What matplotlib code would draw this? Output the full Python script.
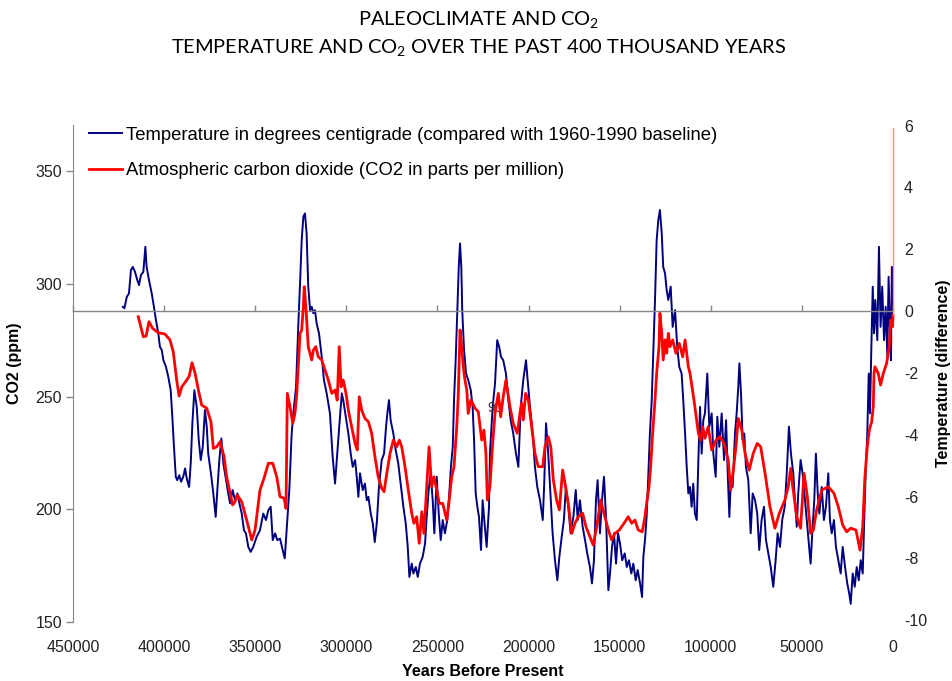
import numpy as np
import matplotlib
matplotlib.use("Agg")
import matplotlib.pyplot as plt

plt.rcParams["font.family"] = ["Liberation Sans", "DejaVu Sans"]
plt.rcParams["axes.unicode_minus"] = False
plt.rcParams["mathtext.default"] = "regular"

# Vostok ice core: temperature anomaly (deg C) vs thousands of years before present
TEMP_KYR = [
    422.7, 421.8, 420.5, 419.3, 418.2, 417.2, 416.0, 414.7, 413.8, 412.7,
    411.4, 410.3, 409.6, 408.3, 406.8, 405.6, 404.5, 403.2, 402.3, 401.3,
    400.4, 399.0, 397.7, 396.4, 395.5, 394.6, 393.6, 392.8, 391.7, 390.7,
    389.5, 388.5, 387.6, 386.3, 385.4, 384.5, 383.4, 382.1, 381.0, 379.9,
    378.8, 377.6, 376.6, 375.8, 374.3, 373.0, 371.7, 370.8, 369.7, 368.6,
    367.5, 366.0, 364.8, 363.8, 362.4, 361.1, 359.8, 358.7, 357.4, 356.2,
    355.1, 353.8, 352.5, 351.1, 349.2, 347.4, 345.6, 344.1, 342.8, 341.5,
    340.4, 339.1, 337.9, 336.4, 334.9, 333.8, 332.4, 331.3, 330.0, 329.1,
    327.6, 326.4, 325.4, 324.5, 323.6, 322.7, 321.8, 320.9, 319.9, 319.0,
    318.1, 317.2, 316.3, 315.0, 313.5, 312.3, 310.8, 309.0, 307.5, 306.2,
    305.0, 303.9, 302.5, 301.7, 300.3, 298.9, 297.6, 296.5, 295.2, 294.3,
    293.4, 292.5, 291.0, 289.8, 288.8, 287.9, 286.6, 285.5, 284.4, 283.3,
    282.1, 280.6, 279.3, 278.2, 277.5, 276.6, 275.7, 274.2, 272.9, 271.5,
    270.2, 268.7, 267.4, 266.3, 265.4, 264.1, 263.2, 261.9, 260.8, 259.6,
    258.1, 256.8, 255.9, 254.8, 253.7, 252.6, 251.7, 250.4, 249.3, 248.2,
    247.1, 245.9, 244.6, 243.5, 242.6, 241.6, 240.9, 240.0, 239.1, 238.3,
    237.6, 236.9, 236.4, 235.4, 234.3, 233.1, 231.7, 230.7, 229.9, 229.0,
    228.1, 227.2, 226.1, 225.2, 224.3, 223.0, 221.7, 221.2, 219.7, 218.4,
    217.2, 216.1, 215.1, 213.9, 212.4, 211.1, 209.8, 208.4, 206.9, 205.6,
    204.3, 202.9, 201.4, 200.5, 199.2, 197.7, 196.5, 195.2, 193.7, 192.2,
    191.4, 190.4, 189.2, 187.8, 186.8, 185.5, 184.2, 183.1, 181.8, 180.6,
    179.5, 178.2, 176.9, 175.4, 174.1, 173.0, 171.8, 170.3, 169.0, 167.8,
    166.3, 165.2, 164.1, 163.0, 162.1, 160.8, 159.7, 158.6, 157.5, 156.2,
    155.3, 154.2, 153.1, 152.0, 150.9, 149.8, 148.6, 147.2, 146.1, 144.9,
    143.6, 142.5, 141.2, 140.1, 138.8, 137.7, 137.0, 136.1, 135.2, 134.3,
    133.4, 132.4, 131.5, 130.6, 129.7, 128.8, 127.9, 126.9, 126.1, 125.1,
    124.2, 123.3, 122.0, 120.9, 119.6, 118.4, 117.3, 116.0, 115.1, 114.1,
    113.2, 112.3, 111.4, 110.5, 109.6, 108.7, 107.7, 106.8, 105.9, 105.0,
    104.1, 103.2, 101.9, 100.8, 99.5, 98.6, 97.3, 96.4, 95.3, 94.0,
    92.7, 91.6, 90.7, 89.8, 88.9, 88.0, 86.7, 85.8, 84.9, 84.3,
    83.4, 82.5, 81.6, 80.7, 79.4, 78.1, 77.0, 75.7, 74.5, 73.4,
    72.1, 70.8, 69.7, 68.4, 67.1, 65.7, 64.4, 63.3, 62.0, 60.8,
    59.4, 58.3, 57.1, 56.0, 54.7, 53.8, 52.8, 52.0, 50.7, 49.6,
    48.3, 47.4, 46.5, 45.2, 44.3, 43.2, 42.3, 41.3, 40.4, 39.1,
    37.9, 36.8, 35.5, 34.6, 33.6, 32.4, 31.3, 30.0, 28.7, 27.6,
    26.3, 25.1, 24.0, 23.2, 22.1, 21.0, 19.9, 18.8, 17.7, 16.6,
    15.9, 15.0, 14.1, 13.3, 12.6, 11.9, 11.1, 10.4, 9.7, 8.6,
    7.7, 6.8, 5.9, 4.9, 4.0, 3.1, 2.4, 1.6, 1.1, 0.6,
    0.0,
]
TEMP_C = [
    0.14, 0.09, 0.46, 0.57, 1.33, 1.43, 1.27, 1.00, 0.84, 1.17,
    1.27, 2.08, 1.43, 1.00, 0.57, 0.14, -0.29, -0.72, -1.16, -1.26,
    -1.59, -1.80, -2.13, -2.56, -3.42, -4.39, -5.36, -5.47, -5.31, -5.52,
    -5.36, -5.09, -5.41, -5.69, -4.93, -3.63, -2.56, -3.10, -4.17, -4.82,
    -4.39, -3.20, -3.74, -4.61, -5.25, -5.90, -6.66, -5.79, -4.82, -4.12,
    -4.93, -5.47, -5.90, -6.22, -5.79, -6.12, -5.90, -6.22, -6.55, -7.09,
    -7.19, -7.63, -7.79, -7.63, -7.30, -7.09, -6.55, -6.76, -6.44, -6.33,
    -7.41, -7.19, -7.41, -7.36, -7.74, -8.00, -6.76, -5.79, -3.96, -3.31,
    -2.45, -0.51, 0.90, 2.30, 3.05, 3.16, 2.51, 0.79, 0.03, 0.14,
    -0.07, 0.03, -0.40, -0.72, -1.48, -2.23, -2.66, -3.31, -4.72, -5.58,
    -4.61, -3.74, -2.66, -2.88, -3.42, -3.96, -4.61, -5.04, -4.82, -5.36,
    -6.01, -5.25, -5.79, -5.58, -6.12, -6.01, -6.55, -6.87, -7.47, -6.87,
    -5.69, -4.82, -4.61, -3.74, -3.31, -2.88, -3.53, -3.96, -4.50, -4.93,
    -5.58, -6.33, -6.87, -7.63, -8.60, -8.17, -8.49, -8.28, -8.60, -8.17,
    -7.95, -7.52, -6.66, -5.79, -5.25, -6.12, -7.19, -5.36, -6.55, -7.41,
    -6.76, -7.19, -6.76, -5.90, -5.04, -4.39, -2.88, -1.59, 0.03, 1.43,
    2.19, 1.43, 0.03, -1.26, -2.02, -2.23, -2.56, -3.10, -4.17, -5.90,
    -6.33, -6.66, -7.73, -6.12, -6.76, -7.63, -6.33, -4.61, -3.10, -2.34,
    -0.94, -1.16, -1.48, -1.59, -2.02, -2.88, -3.53, -3.96, -4.61, -5.04,
    -3.10, -2.23, -1.59, -2.23, -3.10, -3.96, -5.04, -5.69, -6.12, -6.76,
    -5.58, -3.63, -4.61, -6.12, -7.19, -8.06, -8.71, -7.95, -7.30, -6.76,
    -5.69, -6.33, -7.19, -6.66, -5.79, -6.76, -6.12, -6.98, -7.41, -7.84,
    -8.28, -8.81, -8.06, -6.12, -5.47, -7.19, -6.12, -5.36, -6.66, -9.03,
    -8.49, -7.63, -7.19, -8.17, -7.19, -7.52, -8.06, -7.84, -8.28, -8.06,
    -8.49, -8.17, -8.71, -8.38, -8.81, -9.25, -7.95, -7.41, -6.66, -5.36,
    -3.96, -2.88, -1.26, 0.36, 2.30, 2.94, 3.27, 2.51, 1.43, 1.22,
    0.68, 0.36, 0.79, -0.51, 0.03, -1.16, -1.80, -2.02, -2.88, -3.96,
    -5.04, -5.90, -5.69, -6.33, -5.58, -6.55, -6.76, -4.82, -3.10, -4.61,
    -3.53, -3.31, -2.02, -3.74, -3.31, -4.61, -5.36, -3.42, -4.39, -3.31,
    -4.82, -3.53, -5.25, -6.66, -5.36, -5.69, -3.96, -3.31, -2.45, -1.69,
    -2.66, -4.17, -3.96, -5.04, -5.47, -7.19, -5.90, -6.12, -6.55, -7.73,
    -6.76, -6.33, -7.41, -7.84, -8.28, -8.92, -8.06, -7.19, -7.63, -6.76,
    -6.33, -5.25, -3.74, -4.61, -5.25, -6.12, -6.98, -5.90, -4.82, -5.25,
    -6.12, -6.76, -7.30, -8.17, -7.19, -6.12, -4.61, -5.90, -6.55, -5.69,
    -6.76, -6.33, -5.25, -6.76, -7.19, -6.76, -7.63, -8.06, -8.49, -7.63,
    -8.28, -8.81, -9.14, -9.47, -8.49, -8.92, -8.28, -8.71, -8.06, -8.49,
    -6.98, -5.25, -3.96, -2.02, -3.31, -1.26, 0.79, -0.72, 0.36, -0.94,
    2.08, -0.51, 0.79, -0.94, 0.14, -1.48, 1.11, -0.72, -1.59, 1.43,
    -0.07,
]

# atmospheric CO2 (ppm) vs thousands of years before present
CO2_KYR = [
    414.2, 411.4, 409.9, 408.3, 406.3, 403.2, 399.5, 396.8, 395.0, 393.1,
    391.8, 390.3, 387.6, 386.2, 384.7, 383.0, 381.2, 379.4, 376.6, 374.3,
    373.0, 371.1, 369.3, 367.1, 365.7, 363.8, 362.4, 361.1, 359.8, 357.4,
    354.7, 351.9, 350.1, 347.4, 345.2, 342.8, 340.4, 338.2, 336.4, 334.2,
    333.1, 332.4, 330.9, 329.4, 328.2, 327.2, 326.4, 325.4, 324.5, 323.6,
    323.1, 322.1, 320.9, 319.0, 318.1, 316.8, 315.4, 313.5, 311.7, 309.9,
    308.0, 306.2, 305.0, 303.9, 302.9, 301.7, 300.2, 298.9, 297.1, 295.2,
    294.0, 292.9, 291.6, 289.8, 287.9, 286.1, 284.3, 282.5, 280.6, 279.3,
    277.8, 276.0, 274.2, 272.4, 270.9, 269.6, 267.8, 266.0, 264.1, 262.9,
    261.4, 260.0, 258.6, 257.4, 255.9, 254.6, 253.2, 251.9, 250.4, 249.0,
    247.1, 244.9, 243.5, 242.2, 240.9, 239.4, 238.6, 237.6, 236.7, 235.8,
    234.9, 233.9, 233.1, 231.7, 230.7, 229.4, 227.6, 226.6, 225.7, 224.5,
    223.4, 222.6, 221.2, 219.7, 218.4, 216.6, 215.3, 213.9, 212.4, 210.2,
    208.4, 206.2, 204.7, 203.8, 202.9, 201.6, 200.1, 198.3, 196.5, 194.7,
    192.2, 191.0, 189.2, 187.8, 186.4, 184.6, 183.1, 181.3, 180.0, 178.2,
    176.3, 174.5, 172.7, 170.3, 168.5, 166.3, 164.5, 162.6, 160.4, 158.6,
    156.2, 154.4, 152.6, 150.2, 147.6, 145.3, 143.4, 141.6, 139.8, 137.6,
    136.1, 135.2, 133.9, 133.0, 131.9, 130.6, 129.7, 128.4, 127.9, 126.9,
    126.1, 125.1, 124.2, 123.3, 122.4, 120.9, 119.1, 117.3, 115.4, 114.1,
    112.3, 111.4, 109.2, 106.8, 105.5, 104.4, 103.2, 101.4, 99.5, 97.1,
    94.9, 92.7, 90.4, 89.1, 87.6, 86.2, 84.9, 83.0, 81.2, 78.9,
    76.7, 74.5, 72.6, 70.2, 67.5, 64.8, 62.4, 59.3, 57.5, 56.1,
    55.0, 52.8, 50.7, 48.8, 47.0, 45.2, 43.7, 41.9, 39.1, 35.5,
    32.4, 30.0, 27.6, 25.4, 23.2, 20.3, 18.1, 16.6, 15.4, 14.1,
    13.0, 11.7, 10.8, 10.4, 9.9, 8.1, 6.8, 5.3, 3.5, 2.0,
    1.3, 0.2, 0.0,
]
CO2_PPM = [
    285.4, 276.5, 276.8, 283.2, 280.2, 278.3, 277.7, 275.1, 269.9, 257.3,
    250.2, 254.3, 257.3, 259.1, 265.0, 260.3, 252.9, 246.2, 244.8, 238.8,
    227.0, 227.7, 230.0, 223.3, 214.4, 207.1, 201.9, 203.3, 206.3, 203.3,
    195.2, 186.4, 190.8, 208.5, 213.7, 220.4, 220.4, 214.4, 205.6, 204.9,
    200.4, 251.4, 245.5, 238.1, 242.5, 251.4, 263.2, 278.0, 279.5, 289.8,
    298.7, 288.4, 272.1, 266.2, 270.6, 272.1, 267.6, 266.2, 261.8, 257.3,
    251.4, 252.9, 248.4, 272.1, 254.3, 257.3, 251.4, 244.0, 236.6, 229.2,
    226.3, 249.9, 244.0, 240.3, 238.8, 233.7, 223.3, 214.4, 209.3, 207.8,
    215.9, 224.8, 230.7, 227.7, 230.7, 227.7, 218.9, 208.5, 198.2, 193.8,
    196.7, 184.9, 198.9, 189.3, 210.0, 227.7, 210.0, 214.4, 208.5, 202.6,
    202.6, 195.2, 204.1, 214.4, 218.9, 236.6, 249.9, 279.5, 272.1, 263.2,
    257.3, 252.9, 242.5, 248.4, 247.0, 244.8, 243.3, 236.6, 230.7, 235.1,
    224.8, 204.1, 210.0, 229.2, 242.5, 251.4, 241.0, 249.9, 257.3, 245.5,
    238.1, 233.7, 242.5, 247.0, 239.6, 251.4, 248.4, 236.6, 224.8, 218.9,
    218.9, 227.7, 232.2, 227.7, 213.0, 204.1, 199.7, 217.4, 211.5, 202.6,
    189.3, 193.8, 196.7, 198.2, 192.3, 187.8, 184.1, 192.3, 204.1, 198.2,
    190.8, 186.4, 189.3, 190.8, 193.8, 196.7, 193.8, 195.2, 190.8, 190.0,
    196.7, 202.6, 210.0, 218.9, 233.7, 248.4, 260.3, 272.1, 286.9, 278.0,
    266.2, 275.1, 269.2, 278.0, 272.1, 275.1, 269.2, 273.6, 267.6, 275.1,
    263.2, 260.3, 248.4, 233.7, 230.7, 236.6, 231.5, 236.6, 226.3, 230.7,
    232.2, 229.2, 221.8, 208.5, 217.4, 227.7, 240.3, 235.1, 224.8, 217.4,
    224.8, 229.2, 227.7, 215.9, 201.1, 191.6, 198.2, 204.1, 210.0, 218.2,
    210.0, 196.7, 191.6, 215.9, 205.6, 189.3, 190.8, 199.7, 208.5, 210.0,
    207.1, 201.1, 193.0, 190.0, 191.6, 190.8, 181.9, 192.3, 214.4, 227.7,
    235.1, 238.8, 245.5, 260.3, 263.2, 260.3, 255.1, 260.3, 264.7, 272.1,
    283.9, 281.0, 286.1,
]

# recent jump to the modern measured value
MODERN_KYR = [0.0, 0.0]
MODERN_PPM = [286.1, 369.0]

X_TICKS = [450000, 400000, 350000, 300000, 250000, 200000, 150000, 100000, 50000, 0]
CO2_TICKS = [150, 200, 250, 300, 350]
TEMP_TICKS = [6, 4, 2, 0, -2, -4, -6, -8, -10]

CO2_LIM = (150, 370.4)
TEMP_LIM = (-10.06, 6.02)

NAVY = "#000080"
RED = "#ff0000"
GREY = "#868686"

fig = plt.figure(figsize=(9.52, 6.81), dpi=100)
ax = fig.add_axes([0.0767, 0.0866, 0.8613, 0.7298])
ax2 = ax.twinx()

temp_line, = ax2.plot(np.array(TEMP_KYR) * 1000, TEMP_C, color=NAVY, lw=1.4,
                      clip_on=False)
co2_line, = ax.plot(np.array(CO2_KYR) * 1000, CO2_PPM, color=RED, lw=2.0,
                    clip_on=False, zorder=3)
ax.plot(np.array(MODERN_KYR) * 1000, MODERN_PPM, color="#ff8c8c", lw=1.0,
        clip_on=False, zorder=3)

# CO2 axis on top so the red curve sits over the temperature trace
ax.set_zorder(ax2.get_zorder() + 1)
ax.patch.set_visible(False)

ax.set_xlim(450000, 0)
ax.set_ylim(*CO2_LIM)
ax2.set_ylim(*TEMP_LIM)

ax.set_xticks(X_TICKS)
ax.set_xticklabels([str(v) for v in X_TICKS])
ax.tick_params(axis="x", length=0, pad=13, labelsize=11.5, colors="#222222")
ax.set_yticks(CO2_TICKS)
ax.tick_params(axis="y", direction="out", length=5, width=1, color=GREY,
               pad=3, labelsize=11.5, labelcolor="#222222")
ax2.set_yticks(TEMP_TICKS)
ax2.set_yticklabels([str(v) for v in TEMP_TICKS])
ax2.tick_params(axis="y", length=0, pad=8, labelsize=11.5, labelcolor="#222222")

for side in ("top", "right", "bottom"):
    ax.spines[side].set_visible(False)
for side in ("top", "right", "bottom", "left"):
    ax2.spines[side].set_visible(False)
ax.spines["left"].set_color(GREY)

# horizontal axis line crossing at zero temperature, ticks hanging below it
zero_frac = (0 - TEMP_LIM[0]) / (TEMP_LIM[1] - TEMP_LIM[0])
base = ax.secondary_xaxis(zero_frac)
base.set_xticks(X_TICKS)
base.tick_params(axis="x", direction="out", length=4, width=1, color=GREY,
                 labelbottom=False, labeltop=False)
for sp in base.spines.values():
    sp.set_color(GREY)
    sp.set_linewidth(1.0)

ax.set_xlabel("Years Before Present", fontsize=11.5, fontweight="bold")
ax.xaxis.set_label_coords(0.5, -0.085)
ax.set_ylabel("CO2 (ppm)", fontsize=11.5, fontweight="bold")
ax.yaxis.set_label_coords(-0.062, 0.52)
ax2.set_ylabel("Temperature (difference)", fontsize=11.5, fontweight="bold",
               rotation=90)
ax2.yaxis.set_label_coords(1.053, 0.5)

ax.text(218400, 245, "90", ha="center", va="center", fontsize=10,
        color="#333333", zorder=1)

ax.legend([temp_line, co2_line],
          ["Temperature in degrees centigrade (compared with 1960-1990 baseline)",
           "Atmospheric carbon dioxide (CO2 in parts per million)"],
          loc="upper left", bbox_to_anchor=(0.0195, 0.997), frameon=False,
          fontsize=13.3, handlelength=1.8, handletextpad=0.22,
          labelspacing=1.0, borderaxespad=0, borderpad=0)

fig.text(0.503, 1 - 19 / 681, "PALEOCLIMATE AND CO$_2$", ha="center",
         va="center", fontsize=14.4, family="Lato")
fig.text(0.503, 1 - 47 / 681,
         "TEMPERATURE AND CO$_2$ OVER THE PAST 400 THOUSAND YEARS",
         ha="center", va="center", fontsize=14.4, family="Lato")

fig.savefig("out.png", dpi=100)
